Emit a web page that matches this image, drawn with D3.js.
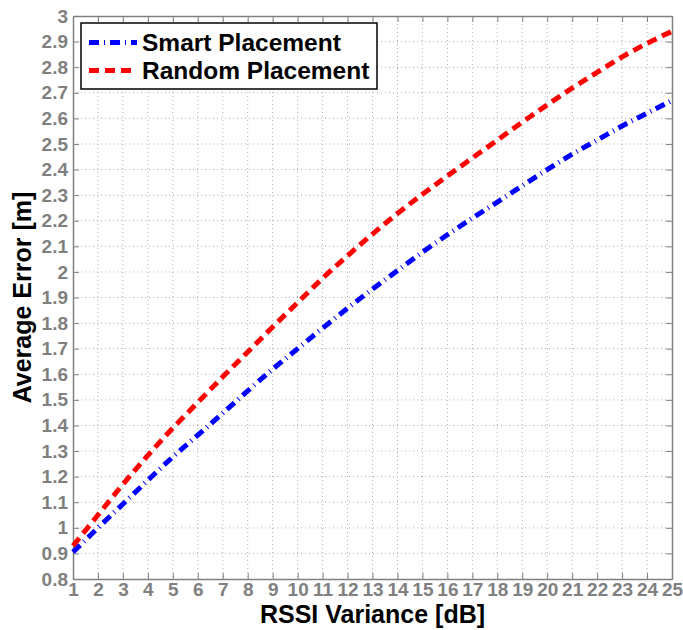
<!DOCTYPE html>
<html>
<head>
<meta charset="utf-8">
<script src="https://cdn.jsdelivr.net/npm/d3@7"></script>
<style>
  html, body { margin: 0; padding: 0; background: #fff; }
  svg { display: block; font-family: "Liberation Sans", Arial, sans-serif; }
</style>
</head>
<body>
<svg id="chart" width="683" height="630"></svg>
<script>
// RSSI variance (dB) on the x axis
const variance = [1,2,3,4,5,6,7,8,9,10,11,12,13,14,15,16,17,18,19,20,21,22,23,24,25];
// Average localisation error (m) for each anchor placement strategy
const smartError = [0.905,1.0,1.093,1.186,1.277,1.362,1.448,1.535,1.62,1.70,1.78,1.858,1.933,2.005,2.077,2.145,2.21,2.273,2.337,2.40,2.46,2.515,2.57,2.62,2.67];
const randomError = [0.93,1.05,1.17,1.283,1.39,1.49,1.59,1.687,1.785,1.88,1.975,2.063,2.148,2.228,2.303,2.375,2.445,2.515,2.585,2.653,2.718,2.78,2.84,2.893,2.94];
const seriesNames = ["Smart Placement", "Random Placement"];
const xTicks = d3.range(1, 26);
const yTicks = [0.8,0.9,1.0,1.1,1.2,1.3,1.4,1.5,1.6,1.7,1.8,1.9,2.0,2.1,2.2,2.3,2.4,2.5,2.6,2.7,2.8,2.9,3.0];
const yTickLabels = ["0.8","0.9","1","1.1","1.2","1.3","1.4","1.5","1.6","1.7","1.8","1.9","2","2.1","2.2","2.3","2.4","2.5","2.6","2.7","2.8","2.9","3"];

const svg = d3.select("#chart");
const margin = { left: 73, right: 11, top: 16, bottom: 51 };
const W = 683, H = 630;
const iw = W - margin.left - margin.right;
const ih = H - margin.top - margin.bottom;

const x = d3.scaleLinear().domain([1, 25]).range([0, iw]);
const y = d3.scaleLinear().domain([0.8, 3]).range([ih, 0]);

const g = svg.append("g").attr("transform", `translate(${margin.left},${margin.top})`);
const axisGrey = "#808080";

// dotted grid
g.append("g").selectAll("line").data(xTicks.slice(1, -1)).join("line")
  .attr("x1", d => x(d)).attr("x2", d => x(d)).attr("y1", 0).attr("y2", ih)
  .attr("stroke", "#b0b0b0").attr("stroke-width", 1).attr("stroke-dasharray", "1,3");
g.append("g").selectAll("line").data(yTicks.slice(1, -1)).join("line")
  .attr("x1", 0).attr("x2", iw).attr("y1", d => y(d)).attr("y2", d => y(d))
  .attr("stroke", "#b0b0b0").attr("stroke-width", 1).attr("stroke-dasharray", "1,3");

// axes with inward ticks on all four sides
const tickLen = 6;
const bottomAxis = d3.axisBottom(x).tickValues(xTicks).tickFormat(d3.format("d")).tickSizeInner(-tickLen).tickSizeOuter(0).tickPadding(4);
const leftAxis = d3.axisLeft(y).tickValues(yTicks).tickFormat((d, i) => yTickLabels[i]).tickSizeInner(-tickLen).tickSizeOuter(0).tickPadding(5);
const topAxis = d3.axisTop(x).tickValues(xTicks).tickFormat("").tickSizeInner(-tickLen).tickSizeOuter(0);
const rightAxis = d3.axisRight(y).tickValues(yTicks).tickFormat("").tickSizeInner(-tickLen).tickSizeOuter(0);

function styleAxis(sel) {
  sel.selectAll(".domain").attr("stroke", axisGrey).attr("stroke-width", 1.5);
  sel.selectAll(".tick line").attr("stroke", axisGrey).attr("stroke-width", 1);
  sel.selectAll(".tick text").attr("fill", axisGrey).attr("font-size", 19).attr("font-weight", "bold")
    .attr("font-family", "'Liberation Sans', Arial, sans-serif");
}
g.append("g").attr("transform", `translate(0,${ih})`).call(bottomAxis).call(styleAxis);
g.append("g").call(leftAxis).call(styleAxis);
g.append("g").call(topAxis).call(styleAxis);
g.append("g").attr("transform", `translate(${iw},0)`).call(rightAxis).call(styleAxis);

// curves
const line = d3.line().curve(d3.curveMonotoneX).x((d, i) => x(variance[i])).y(d => y(d));
const styles = [
  { color: "#0000ff", dash: "10,5,1,5", data: smartError },
  { color: "#ff0000", dash: "10,6", data: randomError }
];
styles.forEach(s => {
  g.append("path").datum(s.data).attr("d", line)
    .attr("fill", "none").attr("stroke", s.color).attr("stroke-width", 5)
    .attr("stroke-dasharray", s.dash);
});

// legend
const lg = svg.append("g").attr("transform", "translate(81,23)");
lg.append("rect").attr("width", 296).attr("height", 66).attr("fill", "#fff")
  .attr("stroke", "#000").attr("stroke-width", 1.5);
styles.forEach((s, i) => {
  const cy = 19.5 + i * 28;
  lg.append("line").attr("x1", 8).attr("x2", 56).attr("y1", cy).attr("y2", cy)
    .attr("stroke", s.color).attr("stroke-width", 5).attr("stroke-dasharray", s.dash);
  lg.append("text").attr("x", 61).attr("y", cy).attr("dy", "0.36em")
    .attr("font-size", 24.5).attr("font-weight", "bold").attr("fill", "#000")
    .text(seriesNames[i]);
});

// axis titles
svg.append("text").attr("x", margin.left + iw / 2).attr("y", 623)
  .attr("text-anchor", "middle").attr("font-size", 25).attr("font-weight", "bold")
  .text("RSSI Variance [dB]");
svg.append("text").attr("transform", `translate(31,${margin.top + ih / 2}) rotate(-90)`)
  .attr("text-anchor", "middle").attr("font-size", 25).attr("font-weight", "bold")
  .text("Average Error [m]");
</script>
</body>
</html>
